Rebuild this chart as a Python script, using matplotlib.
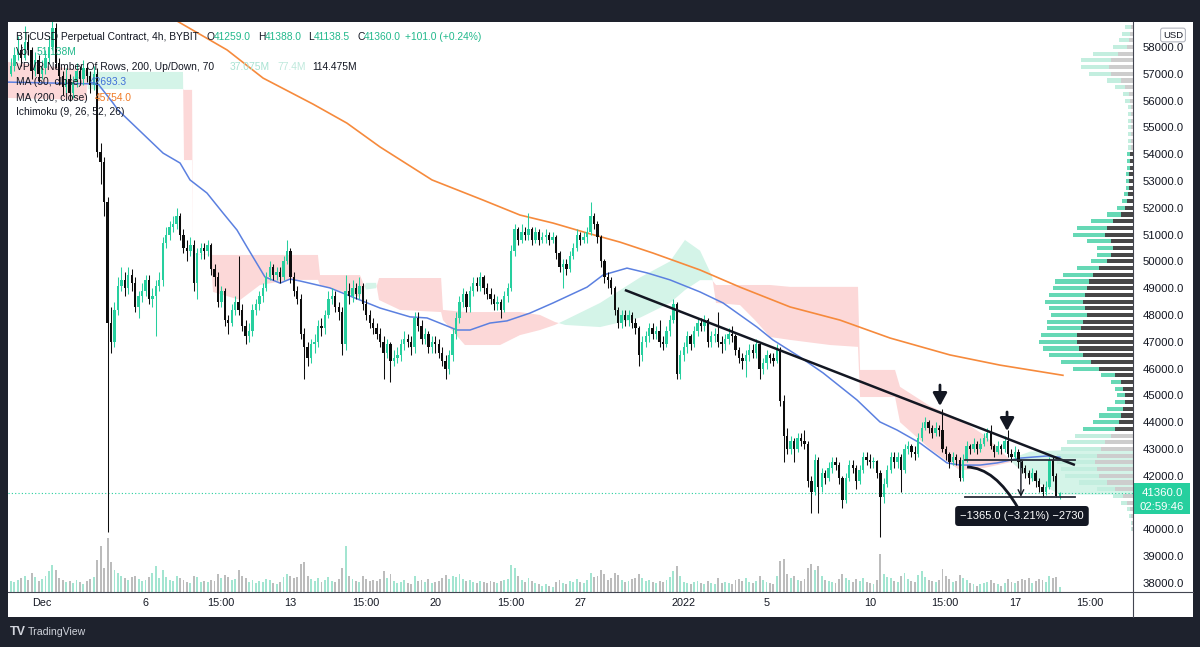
import numpy as np
import pandas as pd
import matplotlib
matplotlib.use("Agg")
import matplotlib.pyplot as plt
import matplotlib.transforms as mtransforms
from matplotlib.patches import Rectangle, PathPatch
from matplotlib.path import Path
from matplotlib.lines import Line2D

plt.rcParams['font.family'] = ['Liberation Sans', 'DejaVu Sans']

# ---------------------------------------------------------------- data
bar_start = "2021-11-29 12:00"      # first 4h candle shown
axis_origin = "2021-12-01 00:00"    # x axis measured in days from here
first_open_k = 57.0

close_k = [
    57.3, 57.7, 57.9, 57.6, 58.2, 57.9, 57.1, 57.5, 57.0,
    57.2, 57.6, 58.0, 58.7, 57.4, 56.9,
    56.5, 56.8, 56.3, 56.7, 57.1, 56.8,
    57.2, 56.9, 56.6, 57.0, 54.1, 53.7,
    52.2, 47.7, 47.0, 48.2, 49.1, 49.3,
    49.0, 49.5, 49.2, 48.3, 48.7, 48.9,
    49.3, 48.6, 48.7, 49.1, 49.3, 50.7,
    51.0, 51.3, 51.4, 51.7, 51.0, 50.5,
    50.4, 50.6, 49.2, 50.3, 50.5, 50.4,
    50.6, 49.7, 49.4, 48.5, 48.9, 47.8,
    47.7, 48.2, 48.5, 48.2, 47.6, 47.2,
    47.4, 48.2, 48.4, 48.7, 49.0, 49.4,
    49.8, 49.5, 49.6, 49.4, 50.0, 50.4,
    49.4, 48.9, 48.6, 47.3, 46.8, 46.4,
    46.9, 47.0, 47.6, 47.5, 48.0, 48.6,
    48.7, 48.3, 48.1, 46.9, 48.9, 48.7,
    49.0, 48.8, 49.1, 48.4, 48.0, 47.7,
    47.5, 47.3, 47.0, 46.6, 46.9, 46.3,
    46.4, 46.5, 46.9, 47.1, 47.0, 46.8,
    47.9, 47.6, 47.1, 47.3, 46.8, 47.0,
    46.9, 46.6, 46.3, 46.0, 46.5, 47.3,
    47.9, 48.5, 48.8, 48.3, 48.9, 49.2,
    49.1, 49.4, 49.0, 48.8, 48.6, 48.4,
    48.5, 48.2, 48.7, 49.0, 50.4, 51.2,
    50.8, 51.1, 51.0, 51.2, 50.8, 51.1,
    50.8, 50.9, 51.0, 50.8, 50.9, 50.3,
    49.8, 49.9, 49.7, 50.2, 50.5, 51.0,
    50.8, 50.9, 51.1, 51.7, 51.4, 50.9,
    50.0, 49.4, 49.3, 49.0, 48.2, 47.7,
    48.0, 47.8, 48.0, 47.7, 47.5, 46.5,
    47.0, 47.2, 47.5, 47.3, 47.4, 47.0,
    46.9, 47.4, 47.8, 48.4, 45.8, 46.5,
    46.8, 47.2, 46.9, 47.4, 47.7, 47.6,
    47.8, 47.0, 47.2, 47.3, 47.0, 46.9,
    47.1, 47.3, 47.2, 46.7, 46.4, 46.3,
    46.5, 46.7, 46.6, 46.9, 46.0, 46.2,
    46.5, 46.4, 46.3, 46.7, 44.8, 43.5,
    43.0, 43.3, 43.0, 43.4, 43.3, 43.2,
    41.8, 41.4, 42.6, 41.6, 42.1, 41.9,
    42.3, 42.5, 42.4, 41.9, 41.1, 41.9,
    42.4, 42.3, 41.8, 42.2, 42.7, 42.6,
    42.5, 42.55, 42.1, 41.2, 41.7, 42.2,
    42.7, 42.5, 42.7, 42.2, 43.0, 43.1,
    42.9, 42.8, 43.4, 43.8, 44.0, 43.8,
    43.6, 43.8, 43.7, 43.0, 42.8, 42.5,
    42.7, 42.6, 41.9, 42.6, 43.1, 43.0,
    43.2, 43.0, 43.2, 43.4, 43.6, 43.1,
    42.9, 43.1, 43.0, 43.3, 42.8, 42.7,
    42.9, 42.5, 42.3, 42.1, 41.9, 42.1,
    41.8, 41.6, 41.4, 41.6, 42.6, 42.0,
    41.259, 41.36]

high_k = [
    57.6, 58.0, 58.4, 58.1, 58.8, 58.5, 58.0, 57.8, 57.7,
    57.5, 57.9, 58.4, 59.2, 58.9, 57.6,
    57.1, 57.2, 57.0, 56.9, 57.4, 57.3,
    57.5, 57.4, 57.1, 57.3, 57.2, 54.4,
    53.9, 52.4, 48.3, 48.5, 49.4, 49.8,
    49.6, 49.8, 49.7, 49.4, 48.9, 49.2,
    49.5, 49.5, 49.0, 49.3, 49.6, 50.9,
    51.3, 51.5, 51.7, 52.0, 51.8, 51.2,
    50.8, 50.9, 50.8, 50.5, 50.7, 50.7,
    50.8, 50.7, 49.9, 49.6, 49.1, 49.0,
    48.0, 48.4, 48.7, 50.2, 48.4, 47.8,
    47.7, 48.4, 48.6, 48.9, 49.2, 49.6,
    50.0, 49.9, 49.8, 49.8, 50.2, 50.8,
    50.5, 49.6, 49.1, 48.8, 47.5, 47.0,
    47.1, 47.3, 47.8, 47.9, 48.2, 48.9,
    49.0, 48.9, 48.5, 48.3, 49.5, 49.2,
    49.3, 49.2, 49.4, 49.2, 48.6, 48.2,
    47.9, 47.7, 47.5, 47.2, 47.1, 47.0,
    46.7, 46.8, 47.1, 47.4, 47.3, 47.2,
    48.1, 48.1, 47.8, 47.5, 47.4, 47.2,
    47.2, 47.1, 46.8, 46.5, 46.7, 47.5,
    48.1, 48.7, 49.0, 48.9, 49.1, 49.4,
    49.4, 49.6, 49.5, 49.2, 49.0, 48.8,
    48.7, 48.6, 48.9, 49.2, 50.6, 51.4,
    51.3, 51.4, 51.3, 51.8, 51.3, 51.3,
    51.2, 51.1, 51.2, 51.1, 51.1, 51.0,
    50.4, 50.1, 50.1, 50.4, 50.7, 51.2,
    51.1, 51.1, 51.3, 52.2, 51.8, 51.5,
    51.0, 50.1, 49.6, 49.4, 49.1, 48.3,
    48.2, 48.2, 48.2, 48.1, 47.9, 47.6,
    47.2, 47.4, 47.7, 47.7, 47.6, 47.8,
    47.2, 47.6, 48.0, 48.6, 48.5, 46.7,
    47.0, 47.4, 47.3, 47.6, 47.9, 47.9,
    48.0, 47.9, 47.4, 47.5, 48.1, 47.2,
    47.3, 47.5, 47.6, 47.3, 46.8, 46.6,
    46.7, 46.9, 46.9, 47.1, 47.0, 46.4,
    46.7, 46.6, 46.6, 46.9, 46.8, 45.0,
    43.8, 43.5, 43.4, 43.6, 43.6, 43.7,
    43.3, 42.0, 42.8, 42.7, 42.3, 42.2,
    42.5, 42.7, 42.7, 42.5, 42.0, 42.1,
    42.6, 42.6, 42.4, 42.4, 42.9, 42.9,
    42.8, 42.7, 42.6, 42.2, 41.9, 42.4,
    42.9, 42.9, 42.9, 42.8, 43.2, 43.3,
    43.2, 43.1, 43.6, 44.0, 44.2, 44.1,
    43.9, 44.0, 43.9, 44.5, 43.1, 42.9,
    42.9, 42.8, 42.7, 42.8, 43.3, 43.2,
    43.4, 43.3, 43.4, 43.6, 43.8, 43.9,
    43.2, 43.3, 43.2, 43.5, 43.7, 43.0,
    43.1, 43.0, 42.6, 42.4, 42.2, 42.3,
    42.2, 41.9, 41.7, 41.8, 42.7, 42.7,
    42.1, 41.388]

low_k = [
    56.9, 57.1, 57.5, 57.3, 57.5, 57.7, 56.8, 56.9, 56.7,
    56.8, 57.0, 57.4, 57.9, 57.2, 56.6,
    56.2, 56.3, 56.0, 56.1, 56.5, 56.6,
    56.6, 56.7, 56.3, 56.4, 53.9, 52.9,
    51.7, 39.9, 46.6, 46.8, 48.0, 48.9,
    48.7, 48.8, 48.9, 48.1, 47.9, 48.5,
    48.7, 48.4, 48.3, 47.2, 48.9, 49.1,
    50.5, 50.8, 51.1, 51.2, 50.8, 50.3,
    50.0, 50.2, 48.9, 48.6, 50.1, 50.1,
    50.2, 49.5, 49.1, 48.3, 48.3, 47.6,
    47.3, 47.6, 48.0, 48.0, 47.4, 46.9,
    47.0, 47.2, 48.0, 48.2, 48.5, 48.9,
    49.3, 49.3, 49.3, 49.2, 49.3, 49.9,
    49.2, 48.7, 48.4, 47.1, 45.6, 46.1,
    46.2, 46.6, 46.8, 47.2, 47.3, 47.9,
    48.4, 48.1, 47.8, 46.5, 46.7, 48.4,
    48.5, 48.6, 48.6, 48.2, 47.8, 47.5,
    47.3, 47.1, 46.8, 45.6, 46.4, 45.5,
    46.1, 46.2, 46.3, 46.7, 46.8, 46.5,
    46.6, 47.4, 46.9, 46.9, 46.6, 46.6,
    46.6, 46.4, 46.1, 45.6, 45.8, 46.3,
    47.1, 47.7, 48.3, 48.1, 48.1, 48.7,
    48.9, 48.9, 48.8, 48.6, 48.4, 48.2,
    48.2, 47.9, 48.1, 48.5, 48.9, 50.2,
    50.6, 50.7, 50.8, 50.8, 50.6, 50.7,
    50.6, 50.7, 50.7, 50.6, 50.7, 50.1,
    49.6, 49.0, 49.5, 49.6, 50.1, 50.4,
    50.6, 50.7, 50.7, 51.0, 51.2, 50.7,
    49.8, 49.2, 49.0, 48.8, 48.0, 47.5,
    47.5, 47.6, 47.6, 47.5, 47.3, 46.1,
    46.3, 46.8, 47.0, 47.1, 47.1, 46.8,
    46.7, 46.8, 47.2, 47.7, 45.6, 45.6,
    46.3, 46.6, 46.7, 46.8, 47.2, 47.4,
    47.4, 46.8, 46.8, 47.0, 46.8, 46.6,
    46.7, 46.9, 47.0, 46.5, 46.2, 46.0,
    45.7, 46.3, 46.4, 46.4, 45.6, 45.8,
    46.0, 46.2, 46.1, 46.2, 44.6, 42.5,
    42.8, 42.8, 42.5, 42.9, 43.1, 43.0,
    41.6, 40.6, 41.3, 40.6, 41.4, 41.7,
    41.8, 42.1, 42.2, 41.7, 40.8, 41.0,
    41.8, 42.1, 41.5, 41.7, 42.1, 42.4,
    42.3, 42.3, 41.9, 39.7, 41.0, 41.6,
    42.1, 42.3, 42.3, 41.4, 42.1, 42.8,
    42.7, 42.6, 42.7, 43.3, 43.7, 43.6,
    43.4, 43.5, 43.5, 42.9, 42.6, 42.3,
    42.4, 42.4, 41.8, 41.8, 42.5, 42.8,
    42.9, 42.8, 42.9, 43.1, 43.3, 43.0,
    42.7, 42.8, 42.8, 42.9, 42.7, 42.5,
    42.6, 42.3, 42.1, 41.9, 41.7, 41.8,
    41.6, 41.4, 41.2, 41.3, 41.5, 41.8,
    41.2, 41.1385]

volume = [
    20, 18, 22, 25, 30, 22, 35, 28, 20, 24, 30, 38, 50, 40, 25, 22, 18, 20, 16, 22, 18, 15, 20, 24, 28,
    60, 85, 45, 100, 55, 40, 35, 30,
    25, 22, 28, 30, 24, 20, 22, 28, 35, 48, 26, 40,
    28, 22, 20, 30, 26, 22, 18, 16, 30, 28, 18, 20,
    18, 22, 20, 34, 26, 32, 28, 22, 24, 40, 30, 26,
    18, 22, 16, 20, 18, 24, 22, 16, 14, 18, 28, 34,
    30, 26, 28, 52, 55, 30, 24, 20, 26, 18, 22, 28,
    20, 18, 24, 45, 85, 30, 24, 20, 18, 30, 24, 20,
    22, 20, 24, 38, 26, 34, 20, 16, 18, 22, 16, 14,
    30, 20, 22, 18, 24, 16, 18, 20, 26, 32, 24, 30,
    28, 34, 24, 20, 22, 18, 16, 20, 18, 16, 20, 18,
    16, 20, 22, 24, 50, 45, 30, 22, 18, 26, 20, 16,
    14, 12, 14, 12, 10, 18, 22, 16, 14, 20, 18, 24,
    18, 16, 22, 36, 28, 30, 40, 34, 22, 26, 36, 32,
    22, 18, 20, 24, 26, 34, 26, 20, 22, 18, 16, 20,
    18, 22, 28, 38, 48, 30,
    18, 16, 14, 18, 20, 16, 14, 20, 16, 14, 26, 16,
    18, 16, 14, 22, 24, 20, 26, 18, 16, 20, 30, 22,
    18, 16, 14, 30, 58, 62, 34, 26, 30, 22, 20, 24,
    44, 52, 40, 48, 30, 22, 20, 18, 16, 24, 34, 26,
    22, 18, 24, 20, 26, 18, 16, 14, 22, 70, 34, 28,
    26, 20, 18, 30, 36, 24, 20, 18, 32, 38, 28, 22,
    20, 18, 22, 42, 30, 24, 18, 20, 32, 26, 22, 16,
    14, 12, 14, 16, 18, 22, 16, 14, 12, 16, 24, 18,
    16, 20, 24, 22, 26, 16, 20, 24, 22, 18, 30, 26,
    28, 10]

# moving averages (day offset, price in k)
ma50_day = [-1.64, 2.71, 3.43, 3.67, 5.85, 6.67, 7.15, 7.97, 8.74, 9.42, 9.90, 10.77, 11.50, 11.98,
            12.46, 13.91, 15.36, 16.33, 17.78, 18.60, 20.05, 20.68, 21.64, 22.46, 23.57, 24.69,
            26.33, 27.10, 28.26, 29.23, 30.34, 31.79, 32.90, 34.54, 35.31, 36.62, 37.73, 39.37,
            40.48, 41.30, 42.42, 43.72, 44.35, 45.31, 46.14, 47.25, 48.55, 49.17]
ma50_k = [56.69, 56.62, 55.91, 55.65, 54.04, 53.67, 53.04, 52.55, 51.81, 51.17, 50.54, 49.42, 49.19, 49.34,
          49.27, 49.01, 48.56, 48.26, 47.93, 47.89, 47.44, 47.44, 47.70, 47.78, 48.07, 48.45,
          49.04, 49.49, 49.75, 49.57, 49.31, 48.86, 48.45, 47.55, 47.07, 46.43, 45.84, 44.83,
          44.01, 43.71, 43.22, 42.48, 42.40, 42.40, 42.48, 42.66, 42.74, 42.69]
ma200_day = [6.18, 6.52, 8.94, 10.68, 13.09, 14.73, 16.33, 18.84, 21.30, 23.09, 24.69, 26.33, 27.92,
             29.52, 31.79, 33.72, 36.14, 38.55, 40.97, 43.86, 46.28, 49.32]
ma200_k = [59.12, 58.97, 57.89, 56.84, 55.87, 55.16, 54.27, 53.04, 52.29, 51.73, 51.43, 51.06, 50.72,
           50.31, 49.68, 49.04, 48.30, 47.81, 47.14, 46.51, 46.13, 45.75]

# Ichimoku cloud (senkou span A / B)
cloud_day = [-1.64, 2.13, 2.22, 6.81, 6.86, 7.25, 7.29, 8.16, 8.26, 9.57, 10.53, 11.98, 13.33, 13.43,
             15.36, 15.65, 16.14, 16.28, 17.29, 19.28, 19.37, 20.43, 22.13, 23.09, 24.06, 24.78,
             25.27, 26.96, 28.89, 30.34, 31.06, 31.79, 32.37, 32.56, 33.72, 34.44, 35.17, 36.14,
             38.07, 39.42, 39.52, 41.21, 41.45, 42.90, 44.35, 45.56, 46.76, 47.00, 47.73, 49.18, 52.71]
span_a_k = [56.10, 56.02, 57.07, 57.07, 53.78, 53.78, 50.25, 50.24, 48.86, 48.56, 49.12, 49.31, 49.31, 49.12,
            48.67, 49.20, 49.20, 48.56, 48.19, 48.11, 47.81, 46.88, 46.88, 47.25, 47.44, 47.63,
            47.81, 48.45, 49.40, 50.00, 50.80, 50.40, 49.45, 48.45, 48.37, 47.81, 47.18, 47.07,
            46.88, 46.81, 44.94, 44.94, 44.00, 43.00, 42.20, 42.30, 42.50, 42.70, 42.90, 42.95, 42.95]
span_b_k = [57.44, 57.14, 56.43, 56.43, 56.40, 56.40, 50.26, 50.25, 50.24, 50.24, 50.24, 50.24, 50.24, 49.49,
            49.49, 48.95, 49.00, 49.38, 49.38, 49.38, 48.19, 48.11, 48.11, 48.11, 48.00, 47.74,
            47.63, 47.55, 47.90, 48.45, 48.93, 49.30, 49.30, 49.12, 49.12, 49.12, 49.12, 49.05,
            49.05, 49.05, 45.95, 45.95, 45.32, 44.60, 44.10, 43.50, 42.60, 42.40, 41.90, 41.30, 41.30]

# visible-range volume profile (row price, up / down volume units)
vp_price = list(range(40000, 59001, 250))
vp_up = [1, 1, 2, 3, 6, 10, 18, 28, 34, 36, 38, 40, 40, 38, 36, 32, 26, 22, 16, 10,
         8, 8, 10, 14, 26, 30, 34, 36, 38, 36, 34, 36, 36, 36, 38, 36, 34, 34, 30, 22,
         16, 14, 16, 24, 32, 30, 22, 14, 8, 5, 4, 3, 3, 3, 3, 3, 3, 3, 3, 3,
         3, 3, 3, 3, 5, 6, 10, 14, 22, 28, 30, 25, 14, 10, 8, 6, 3]
vp_down = [1, 1, 2, 3, 6, 10, 18, 26, 34, 36, 38, 36, 32, 28, 22, 18, 14, 12, 10, 8,
           8, 10, 12, 18, 34, 42, 50, 54, 56, 56, 52, 50, 46, 48, 50, 48, 46, 44, 40, 34,
           26, 22, 20, 22, 28, 26, 20, 12, 8, 6, 5, 4, 4, 4, 3, 3, 3, 2, 2, 2,
           2, 2, 2, 2, 3, 4, 8, 12, 22, 24, 22, 15, 6, 4, 3, 2, 1]
value_area = (43750, 54000)

price_ticks = [38000, 39000, 40000, 42000, 43000, 44000, 45000, 46000, 47000, 48000, 49000,
               50000, 51000, 52000, 53000, 54000, 55000, 56000, 57000, 58000]
time_tick_day = [0, 5, 8.625, 12, 15.625, 19, 22.625, 26, 31, 35, 40, 43.625, 47, 50.625]
time_tick_label = ["Dec", "6", "15:00", "13", "15:00", "20", "15:00", "27", "2022", "5", "10",
                   "15:00", "17", "15:00"]

last_price = 41360.0
range_top, range_bottom = 42580.0, 41215.0

# ---------------------------------------------------------------- styling
W, H = 1200, 647
UP = '#26cf9e'
DOWN = '#0d0d0d'
DARK = '#131722'
MINT_TXT = '#22b98c'
XMIN, XMAX = -1.643, 52.705
YMIN, YMAX = 37664.0, 58933.0
DAYPX = 1125.0 / (XMAX - XMIN)
PPX = (YMAX - YMIN) / 570.0

fig = plt.figure(figsize=(12, 6.47), dpi=100)
fig.patch.set_facecolor('#1e222d')
fig.patches.append(Rectangle((8 / W, (H - 617) / H), 1185 / W, 595 / H, transform=fig.transFigure,
                             facecolor='white', edgecolor='none', zorder=-5))

ax = fig.add_axes([8 / W, (H - 592) / H, 1125 / W, 570 / H])
ax.set_zorder(1)
ax.set_facecolor('white')
ax.set_xlim(XMIN, XMAX)
ax.set_ylim(YMIN, YMAX)
for s in ax.spines.values():
    s.set_visible(False)

t = pd.date_range(bar_start, periods=len(close_k), freq='4h')
x = ((t - pd.Timestamp(axis_origin)) / pd.Timedelta('1D')).to_numpy()
c = np.array(close_k) * 1000
hi = np.array(high_k) * 1000
lo = np.array(low_k) * 1000
o = np.r_[first_open_k * 1000, c[:-1]]
hi = np.maximum(hi, np.maximum(o, c))
lo = np.minimum(lo, np.minimum(o, c))
up = c >= o

# cloud
cd = np.array(cloud_day)
A = np.array(span_a_k) * 1000
B = np.array(span_b_k) * 1000
ax.fill_between(cd, A, B, where=A >= B, interpolate=True, color='#d4f4e8', lw=0, zorder=1)
ax.fill_between(cd, A, B, where=A < B, interpolate=True, color='#fcd8d8', lw=0, zorder=1)

# volume
vol = np.array(volume, dtype=float)
ax.bar(x, vol * 0.54 * PPX, bottom=YMIN, width=0.55 / 6,
       color=np.where(up, '#a3e5d1', '#bcbcbc'), lw=0, zorder=1.5)

# volume profile
vp = np.array(vp_price, dtype=float)
vu = np.array(vp_up) / DAYPX
vdn = np.array(vp_down) / DAYPX
in_va = (vp >= value_area[0]) & (vp <= value_area[1])
ax.barh(vp, vdn, left=XMAX - vdn, height=250 * 0.6, color=np.where(in_va, '#474747', '#cdcdcd'),
        lw=0, zorder=2)
ax.barh(vp, vu, left=XMAX - vdn - vu, height=250 * 0.6, color=np.where(in_va, '#66d8b5', '#c3eedf'),
        lw=0, zorder=2)

# moving averages
ax.plot(ma50_day, np.array(ma50_k) * 1000, color='#5b80e0', lw=1.1, zorder=3)
ax.plot(ma200_day, np.array(ma200_k) * 1000, color='#f68a3c', lw=1.2, zorder=3)

# last price dotted line
ax.axhline(last_price, color='#26cf9e', lw=0.8, ls=(0, (1, 2)), zorder=3)

# candles
colors = np.where(up, UP, DOWN)
ax.vlines(x, lo, hi, colors=colors, lw=0.75, zorder=4)
body = np.maximum(np.abs(c - o), 40)
ax.bar(x, body, bottom=np.minimum(o, c), width=0.68 / 6, color=colors, lw=0, zorder=4.1)

# drawings: trend line, arrows, price range, arc
ax.plot([28.16, 49.9], [48933, 42403], color=DARK, lw=1.8, zorder=5, solid_capstyle='butt')
for d, top, tip in [(43.38, 45388, 44605), (46.62, 44381, 43672)]:
    ax.annotate('', xy=(d, tip), xytext=(d, top),
                arrowprops=dict(arrowstyle='-|>,head_width=0.3,head_length=0.55', lw=2.0,
                                color=DARK, mutation_scale=14, shrinkA=0, shrinkB=0), zorder=5)
for yv in (range_top, range_bottom):
    ax.plot([44.59, 49.9], [yv, yv], color='#2a2e39', lw=1.3, zorder=5)
ax.annotate('', xy=(47.29, range_bottom), xytext=(47.29, range_top),
            arrowprops=dict(arrowstyle='->', lw=1.0, color=DARK, shrinkA=0, shrinkB=0), zorder=5)
arc = Path([(44.69, 42329), (46.04, 42291), (47.15, 40799)], [Path.MOVETO, Path.CURVE3, Path.CURVE3])
ax.add_patch(PathPatch(arc, fill=False, lw=2.0, color=DARK, zorder=5))
ax.text(47.34, 40500, '\u22121365.0 (\u22123.21%) \u22122730', ha='center', va='center', color='white',
        fontsize=8, zorder=6,
        bbox=dict(boxstyle='round,pad=0.45,rounding_size=0.3', fc='#131722', ec='none'))

# axes ticks
ax.yaxis.tick_right()
ax.set_yticks(price_ticks)
ax.set_yticklabels([f"{p:.1f}" for p in price_ticks])
ax.tick_params(axis='y', length=0, pad=7.0, labelsize=8.2, labelcolor=DARK)
ax.set_xticks(time_tick_day)
ax.set_xticklabels(time_tick_label)
ax.tick_params(axis='x', length=0, pad=4.5, labelsize=7.8, labelcolor=DARK)

# current price label box
trans = mtransforms.blended_transform_factory(ax.transAxes, ax.transData)
ax.add_patch(Rectangle((1.0009, last_price - 21 * PPX), 56 / 1125, 31 * PPX, transform=trans,
                       facecolor='#26cf9e', edgecolor='none', clip_on=False, zorder=6))
ax.text(1 + 29 / 1125, last_price, '41360.0', transform=trans, ha='center', va='center',
        color='white', fontsize=8.2, clip_on=False, zorder=7)
ax.text(1 + 29 / 1125, last_price - 14 * PPX, '02:59:46', transform=trans, ha='center', va='center',
        color='white', fontsize=8.2, clip_on=False, zorder=7)

# separators
fig.add_artist(Line2D([1133 / W, 1133 / W], [(H - 617) / H, (H - 22) / H], color='#434651', lw=0.8,
                      zorder=3))
fig.add_artist(Line2D([8 / W, 1193 / W], [(H - 592) / H, (H - 592) / H], color='#434651', lw=0.8,
                      zorder=3))

# USD badge
fig.text(1173 / W, 1 - 35 / H, 'USD', ha='center', va='center', fontsize=6.8, color=DARK, zorder=10,
         bbox=dict(boxstyle='round,pad=0.25', fc='white', ec='#b2b5be', lw=0.8))

# legend header
def piece(s, xp, yp, col):
    fig.text(xp / W, 1 - yp / H, s, ha='left', va='center', fontsize=7.4, color=col, zorder=10)

header = [
    [("BTCUSD Perpetual Contract, 4h, BYBIT", 16, DARK), ("O", 207, DARK), ("41259.0", 214, MINT_TXT),
     ("H", 258, DARK), ("41388.0", 265, MINT_TXT), ("L", 308, DARK), ("41138.5", 314, MINT_TXT),
     ("C", 357, DARK), ("41360.0", 364, MINT_TXT), ("+101.0 (+0.24%)", 405, MINT_TXT)],
    [("Vol", 16, DARK), ("51.138M", 37, MINT_TXT)],
    [("VPVR Number Of Rows, 200, Up/Down, 70", 16, DARK), ("37.075M", 230, '#a8e3d2'),
     ("77.4M", 277, '#bfe9dc'), ("114.475M", 312, DARK)],
    [("MA (50, close)", 16, DARK), ("42693.3", 90, '#3f6fd8')],
    [("MA (200, close)", 16, DARK), ("45754.0", 95, '#f07a26')],
    [("Ichimoku (9, 26, 52, 26)", 16, DARK)],
]
for yp, row in zip([37, 52, 67, 82, 98, 112], header):
    for s, xp, col in row:
        piece(s, xp, yp, col)

# footer logo
fig.text(10 / W, 1 - 632 / H, 'TV', ha='left', va='center', fontsize=9, fontweight='bold', color='#d1d4dc')
fig.text(28 / W, 1 - 632 / H, 'TradingView', ha='left', va='center', fontsize=7.6, color='#d1d4dc')

fig.savefig('out.png', dpi=100, facecolor=fig.get_facecolor())
